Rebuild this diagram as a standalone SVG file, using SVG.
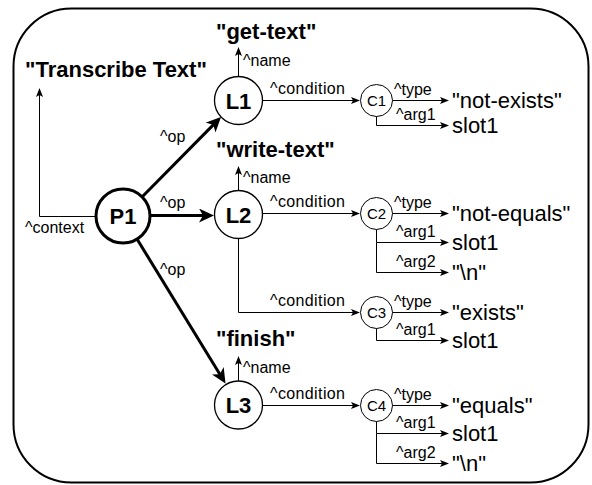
<svg xmlns="http://www.w3.org/2000/svg" width="592" height="485" viewBox="0 0 592 485">
<style>
.frame{fill:#fff;stroke:#000;stroke-width:2}
.big{fill:#fff;stroke:#000;stroke-width:3}
.mid{fill:#fff;stroke:#000;stroke-width:1.3}
.sm{fill:#fff;stroke:#000;stroke-width:1}
.thick{fill:none;stroke:#000;stroke-width:3;marker-end:url(#ah)}
.thin{fill:none;stroke:#000;stroke-width:1;marker-end:url(#at)}
text{font-family:"Liberation Sans",Arial,Helvetica,sans-serif;fill:#000}
.title{font-size:22px;font-weight:bold}
.nid{font-size:22px;font-weight:bold;text-anchor:middle}
.cid{font-size:15px;text-anchor:middle}
.lbl{font-size:16px}
.val{font-size:22px}
</style>
<defs>
<marker id="ah" markerUnits="userSpaceOnUse" markerWidth="16" markerHeight="14" refX="5" refY="7" orient="auto">
<path d="M0,0 L15,7 L0,14 L4,7 Z" fill="#000"/>
</marker>
<marker id="at" markerUnits="userSpaceOnUse" markerWidth="10" markerHeight="8" refX="2" refY="4" orient="auto">
<path d="M0,0.5 L9,4 L0,7.5 L2,4 Z" fill="#000"/>
</marker>
</defs>
<rect class="frame" x="13.5" y="8.5" width="575" height="474" rx="58" ry="58"/>
<g id="connectors">
<path class="thick" d="M142,197 L214,124.1"/>
<path class="thick" d="M150,215.5 L204,215.5"/>
<path class="thick" d="M137,239 L220.3,375"/>
<path class="thin" d="M96,216.5 H39.5 V95"/>
<path class="thin" d="M238.5,76 V54"/>
<path class="thin" d="M238.5,191 V173"/>
<path class="thin" d="M238.5,381 V363"/>
<path class="thin" d="M262,100.5 H353"/>
<path class="thin" d="M262,213.5 H353"/>
<path class="thin" d="M238.5,239 V312.5 H353"/>
<path class="thin" d="M262,405.5 H353"/>
<path class="thin" d="M392,100.5 H442"/>
<path class="thin" d="M376.5,116 V125.5 H442"/>
<path class="thin" d="M392,213.5 H442"/>
<path class="thin" d="M376.5,229 V242.5 H442"/>
<path class="thin" d="M376.5,242.5 V272.5 H442"/>
<path class="thin" d="M392,312.5 H442"/>
<path class="thin" d="M376.5,328 V340.5 H442"/>
<path class="thin" d="M392,405.5 H442"/>
<path class="thin" d="M376.5,421 V433.5 H442"/>
<path class="thin" d="M376.5,433.5 V463.5 H442"/>
<text class="lbl" x="25" y="233">^context</text>
<text class="lbl" x="160" y="142">^op</text>
<text class="lbl" x="160" y="208">^op</text>
<text class="lbl" x="160" y="275">^op</text>
<text class="lbl" x="243" y="66">^name</text>
<text class="lbl" x="243" y="183">^name</text>
<text class="lbl" x="243" y="373">^name</text>
<text class="lbl" x="270" y="94" textLength="75">^condition</text>
<text class="lbl" x="270" y="207" textLength="75">^condition</text>
<text class="lbl" x="270" y="306" textLength="75">^condition</text>
<text class="lbl" x="270" y="399" textLength="75">^condition</text>
<text class="lbl" x="394" y="95">^type</text>
<text class="lbl" x="396" y="120">^arg1</text>
<text class="lbl" x="394" y="208">^type</text>
<text class="lbl" x="396" y="237">^arg1</text>
<text class="lbl" x="396" y="267">^arg2</text>
<text class="lbl" x="394" y="307">^type</text>
<text class="lbl" x="396" y="335">^arg1</text>
<text class="lbl" x="394" y="400">^type</text>
<text class="lbl" x="396" y="428">^arg1</text>
<text class="lbl" x="396" y="458">^arg2</text>
</g>
<g id="P1"><circle class="big" cx="123" cy="216" r="27"/><text class="nid" x="123" y="224">P1</text></g>
<g id="L1"><circle class="mid" cx="238.5" cy="100.5" r="24"/><text class="nid" x="238.5" y="108.5">L1</text></g>
<g id="L2"><circle class="mid" cx="238.5" cy="214.5" r="24"/><text class="nid" x="238.5" y="222.5">L2</text></g>
<g id="L3"><circle class="mid" cx="238.5" cy="405" r="24"/><text class="nid" x="238.5" y="413">L3</text></g>
<g id="C1"><circle class="sm" cx="376.5" cy="100.5" r="16"/><text class="cid" x="376.5" y="106">C1</text></g>
<g id="C2"><circle class="sm" cx="376.5" cy="213.5" r="16"/><text class="cid" x="376.5" y="219">C2</text></g>
<g id="C3"><circle class="sm" cx="376.5" cy="312.5" r="16"/><text class="cid" x="376.5" y="318">C3</text></g>
<g id="C4"><circle class="sm" cx="376.5" cy="405.5" r="16"/><text class="cid" x="376.5" y="411">C4</text></g>
<g id="titles">
<text class="title" x="25" y="77">"Transcribe Text"</text>
<text class="title" x="216" y="39">"get-text"</text>
<text class="title" x="216" y="157">"write-text"</text>
<text class="title" x="216" y="346">"finish"</text>
</g>
<g id="values">
<text class="val" x="452" y="108">"not-exists"</text>
<text class="val" x="452" y="133">slot1</text>
<text class="val" x="452" y="221">"not-equals"</text>
<text class="val" x="452" y="250">slot1</text>
<text class="val" x="452" y="280">"\n"</text>
<text class="val" x="452" y="320">"exists"</text>
<text class="val" x="452" y="348">slot1</text>
<text class="val" x="452" y="413">"equals"</text>
<text class="val" x="452" y="441">slot1</text>
<text class="val" x="452" y="471">"\n"</text>
</g>
</svg>
